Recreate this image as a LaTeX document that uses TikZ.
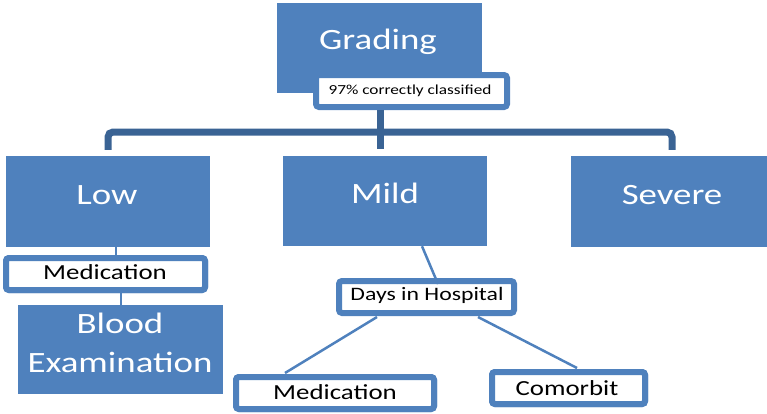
\documentclass[tikz,border=0pt]{standalone}
\usepackage{fontspec}
\setmainfont{Carlito}
\usetikzlibrary{calc}
\definecolor{boxblue}{HTML}{4F81BD}
\definecolor{barblue}{HTML}{3A6394}
\newcommand{\sx}[1]{\scalebox{1.25}[1]{#1}}
\begin{document}
\begin{tikzpicture}[x=1pt,y=-1pt,
  bluebox/.style={fill=boxblue, draw=none, inner sep=0pt},
  wbox/.style={fill=white, draw=boxblue, line width=6pt, rounded corners=3pt, inner sep=0pt},
  wtext/.style={text=white, inner sep=0pt},
  btext/.style={text=black, inner sep=0pt},
  thinline/.style={draw=boxblue, line width=2.5pt},
  barline/.style={draw=barblue, line width=7pt}]
\useasboundingbox (0,0) rectangle (767,413);

% blue boxes
\node[bluebox, minimum width=205pt, minimum height=90pt] (grading) at (379.5,48) {};
\node[bluebox, minimum width=204pt, minimum height=91pt] (low) at (108,201.5) {};
\node[bluebox, minimum width=204pt, minimum height=90pt] (mild) at (385,201) {};
\node[bluebox, minimum width=196pt, minimum height=91pt] (severe) at (669,201.5) {};
\node[bluebox, minimum width=205pt, minimum height=89pt] (blood) at (120.5,349.5) {};

% texts on blue boxes
\node[wtext, font=\fontsize{29.5}{32}\selectfont] (gradingtxt) at (378,42) {\sx{Grading}};
\node[wtext, font=\fontsize{29.5}{32}\selectfont] (lowtxt) at (107,195) {\sx{Low}};
\node[wtext, font=\fontsize{29.5}{32}\selectfont] (mildtxt) at (385,193) {\sx{Mild}};
\node[wtext, font=\fontsize{29.5}{32}\selectfont] (severetxt) at (672,195) {\sx{Severe}};
\node[wtext, align=center, font=\fontsize{29.5}{39}\selectfont] (bloodtxt) at (120,343) {\sx{Blood}\\\sx{Examination}};

% tree bar
\coordinate (hub) at (380,132);
\node[wbox, minimum width=191pt, minimum height=32pt] (pct) at (411.5,91) {};
\draw[barline, rounded corners=5pt] ($(low.north)+(0,-6)$) |- (hub) -| ($(severe.north)+(3,-6)$);
\draw[barline] (pct.south -| hub) -- ($(hub |- mild.north)+(0,-7)$);
\node[btext, font=\fontsize{13.8}{15}\selectfont] (pcttxt) at (410,91) {\sx{97\% correctly classified}};

% white boxes and thin connectors
\node[wbox, minimum width=199pt, minimum height=32pt] (lowmed) at (105.5,274) {};
\node[wbox, minimum width=175pt, minimum height=32pt] (days) at (426.5,297) {};
\node[wbox, minimum width=198pt, minimum height=32pt] (med) at (335,393) {};
\node[wbox, minimum width=153pt, minimum height=32pt] (comorbit) at (568.5,388) {};

\draw[thinline] ($(low.south)+(8,0)$) -- ($(lowmed.north)+(10.5,0)$);
\draw[thinline] ($(lowmed.south)+(15.5,0)$) -- ($(blood.north)+(0.5,0)$);
\draw[thinline] ($(mild.south)+(37,0)$) -- ($(days.north)+(11.5,6)$);
\draw[thinline] ($(days.south)+(-49.5,1)$) -- ($(med.north)+(-50,-1)$);
\draw[thinline] ($(days.south)+(51.5,1)$) -- ($(comorbit.north)+(8.5,-1)$);

% redraw white boxes over connector ends
\node[wbox, minimum width=199pt, minimum height=32pt] (lowmedb) at (105.5,274) {};
\node[wbox, minimum width=198pt, minimum height=32pt] (medb) at (335,393) {};
\node[wbox, minimum width=153pt, minimum height=32pt] (comorbitb) at (568.5,388) {};

% texts on white boxes
\node[btext, font=\fontsize{21.5}{24}\selectfont] (lowmedtxt) at (105,272) {\sx{Medication}};
\node[btext, font=\fontsize{19}{22}\selectfont] (daystxt) at (427,295) {\sx{Days in Hospital}};
\node[btext, font=\fontsize{21.5}{24}\selectfont] (medtxt) at (335,392) {\sx{Medication}};
\node[btext, font=\fontsize{21.5}{24}\selectfont] (comorbittxt) at (567,388) {\sx{Comorbit}};
\end{tikzpicture}
\end{document}
